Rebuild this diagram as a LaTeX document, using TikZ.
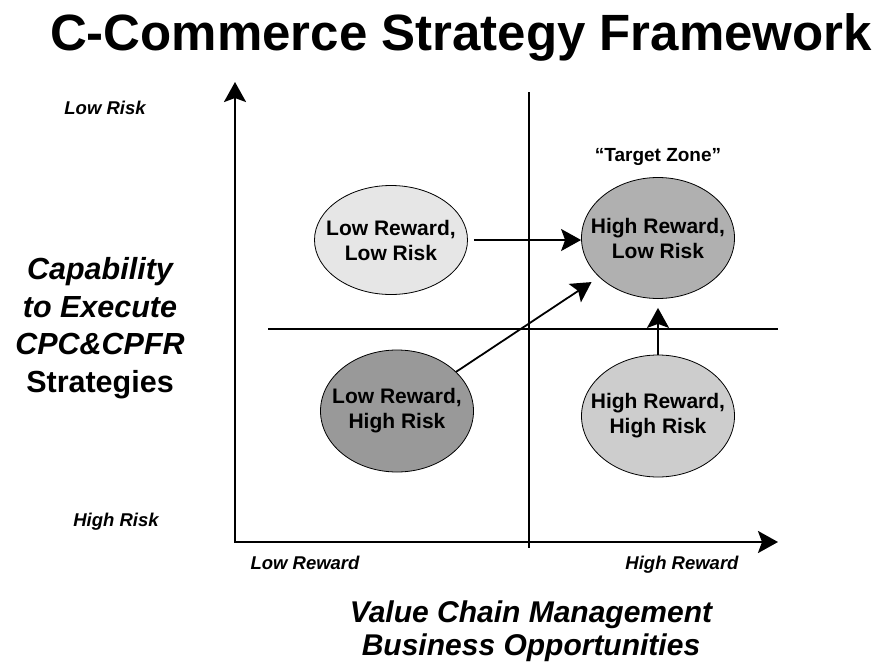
\documentclass[tikz,border=0pt]{standalone}
\usepackage{fontspec}
\setmainfont{Liberation Sans}
\usepackage{tikz}
\usetikzlibrary{arrows.meta,positioning,shapes.geometric}
\definecolor{zonepale}{HTML}{E6E6E6}
\definecolor{zonemid}{HTML}{CDCDCD}
\definecolor{zonetarget}{HTML}{B0B0B0}
\definecolor{zonedark}{HTML}{999999}

\begin{document}
\begin{tikzpicture}[
  x=1pt, y=-1pt,
  font=\bfseries,
  quad/.style={ellipse, draw=black, line width=0.8pt, inner xsep=-13pt, inner ysep=0pt,
               minimum width=153pt, minimum height=122pt, align=center,
               font=\fontsize{21}{25}\selectfont\bfseries},
  tick/.style={font=\fontsize{18.5}{22}\selectfont\bfseries\itshape},
  axlabel/.style={align=center, inner sep=0pt},
  >={Stealth[length=20pt, width=22pt, inset=4pt]},
  axis/.style={<->, line width=2.6pt, draw=black},
  divider/.style={line width=1.3pt, draw=black},
  flow/.style={->, line width=1.8pt, draw=black},
]
\useasboundingbox (0,0) rectangle (888,664);
% ----- title -----
\node[anchor=base, font=\fontsize{51}{60}\selectfont\bfseries] (title) at (461,50)
  {C-Commerce Strategy Framework};
% ----- axes -----
\coordinate (ytip) at (235,82);
\coordinate (origin) at (235,542);
\coordinate (xtip) at (778,542);
\draw[axis] (ytip)--(origin)--(xtip);
\coordinate (vtop) at (529,92);
\coordinate (vbot) at (529,548);
\coordinate (hleft) at (268,329);
\coordinate (hright) at (778,329);
\draw[divider] (vtop)--(vbot);
\draw[divider] (hleft)--(hright);
% ----- axis ticks -----
\node[tick, anchor=base] (lowrisk) at (105,114) {Low Risk};
\node[tick, anchor=base] (highrisk) at (116,526) {High Risk};
\node[tick, anchor=base] (lowrew) at (305,569) {Low Reward};
\node[tick, anchor=base] (highrew) at (682,569) {High Reward};
% ----- axis titles -----
\node[axlabel, font=\fontsize{30.5}{37.5}\selectfont\bfseries] (ylab) at (100,328)
  {\itshape Capability\\\itshape to Execute\\\itshape CPC\&CPFR\\Strategies};
\node[axlabel, font=\fontsize{30}{33}\selectfont\bfseries\itshape, anchor=base] (xlab) at (531,655)
  {Value Chain Management\\Business Opportunities};
% ----- quadrants -----
\node[quad, fill=zonepale, minimum height=109pt] (lrlr) at (391,240) {Low Reward,\\Low Risk};
\node[quad, fill=zonetarget, minimum height=121pt] (hrlr) at (658,238) {High Reward,\\Low Risk};
\node[quad, fill=zonedark] (lrhr) at (397,411) {Low Reward,\\High Risk};
\node[quad, fill=zonemid] (hrhr) at (658,416) {High Reward,\\High Risk};
\node[font=\fontsize{19}{22}\selectfont\bfseries, above=8pt of hrlr] (target) {``Target Zone''};
% ----- moves toward the target zone -----
\draw[flow, shorten <=6pt] (lrlr.east)--(lrlr.east -| hrlr.west);
\draw[flow, shorten >=9pt] (lrhr)--(hrlr);
\draw[flow, shorten >=9pt] (hrhr.north)--(hrlr.south);
\end{tikzpicture}
\end{document}
